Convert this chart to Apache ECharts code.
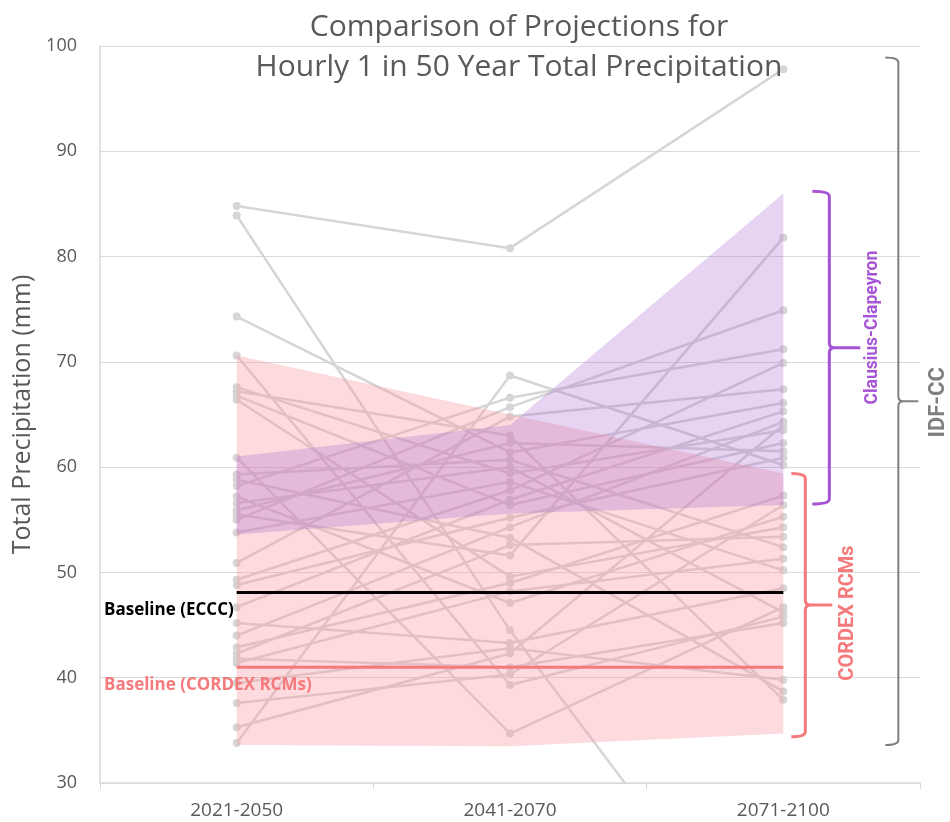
<!DOCTYPE html>
<html>
<head>
<meta charset="utf-8">
<script src="https://cdn.jsdelivr.net/npm/echarts@6/dist/echarts.min.js"></script>
<style>
  html, body { margin: 0; padding: 0; background: #fff; }
  #chart { width: 950px; height: 822px; }
</style>
</head>
<body>
<div id="chart"></div>
<script>
// Projection periods on the x axis
const periods = ['2021-2050', '2041-2070', '2071-2100'];

// Hourly 1-in-50-year total precipitation (mm), one entry per model run
const early = [84.8, 83.9, 74.3, 70.6, 67.6, 67.2, 66.8, 66.4, 60.9, 59.3, 58.8, 58.2, 57.2, 56.6, 55.9, 55.5,
               55.0, 53.8, 50.9, 49.3, 48.8, 46.7, 45.2, 44.0, 42.9, 42.3, 41.8, 41.4, 39.5, 37.6, 35.3, 33.8];
const middle = [80.8, 44.5, 61.4, 39.3, 59.4, 63.0, 56.4, 49.6, 34.7, 60.7, 53.3, 66.6, 47.1, 60.0, 62.3, 51.6,
                65.7, 58.6, 64.8, 57.8, 55.2, 56.9, 43.3, 54.3, 49.0, 52.6, 41.0, 48.2, 42.8, 40.3, 42.3, 68.7];
const late = [97.8, 10.0, 66.1, 45.8, 63.5, 37.9, 62.3, 54.3, 46.7, 52.4, 38.7, 71.2, 55.3, 46.2, 61.5, 81.8,
              74.9, 50.2, 67.4, 69.9, 60.9, 65.3, 48.5, 64.3, 57.3, 53.4, 45.2, 51.3, 39.8, 56.4, 64.0, 60.2];

// Envelope of the CORDEX RCM projections
const cordexUpper = [70.6, 65.0, 59.4];
const cordexLower = [33.6, 33.5, 34.7];

// Envelope of the Clausius-Clapeyron scaling
const ccUpper = [61.0, 64.0, 86.0];
const ccLower = [53.6, 55.6, 56.4];

// Baselines
const baselineEccc = 48.1;
const baselineCordex = 41.0;

// Ranges spanned by the bracket annotations [top, bottom]
const ccRange = [86.2, 56.5];
const cordexRange = [59.4, 34.4];
const idfRange = [98.9, 33.6];

// Y axis settings
const yMin = 30, yMax = 100, yStep = 10;

const FONT = '"Open Sans", "Liberation Sans", sans-serif';
const LABEL_FONT = 'Roboto, "Open Sans", sans-serif';
const TEXT = '#595959';
const GRID = '#d9d9d9';
const PINK = '#f47a7c';
const PURPLE = '#a653d6';

const chart = echarts.init(document.getElementById('chart'), null, { renderer: 'canvas' });

// One grey line per model run
const runSeries = early.map((v, i) => ({
  type: 'line',
  data: [v, middle[i], late[i]],
  symbol: 'circle',
  symbolSize: 8,
  silent: true,
  z: 1,
  lineStyle: { color: '#d6d6d6', width: 2.5 },
  itemStyle: { color: '#d6d6d6' },
  animation: false
}));

// Filled envelope between two arrays of values
function bandSeries(upper, lower, fill, z) {
  return {
    type: 'custom',
    data: [[0, upper[0]]],
    silent: true,
    z: z,
    animation: false,
    renderItem: function (params, api) {
      const pts = [];
      for (let i = 0; i < upper.length; i++) pts.push(api.coord([i, upper[i]]));
      for (let i = lower.length - 1; i >= 0; i--) pts.push(api.coord([i, lower[i]]));
      return { type: 'polygon', shape: { points: pts }, style: { fill: fill } };
    }
  };
}

// Horizontal baseline spanning all periods, with a caption under the plot's left edge
function baselineSeries(value, color, caption) {
  return [{
    type: 'line',
    data: periods.map(() => value),
    symbol: 'none',
    silent: true,
    z: 4,
    lineStyle: { color: color, width: 3 },
    animation: false
  }, {
    type: 'custom',
    data: [[0, value]],
    silent: true,
    z: 5,
    animation: false,
    renderItem: function (params, api) {
      const p = api.coord([0, value]);
      const left = params.coordSys.x;
      return {
        type: 'text',
        x: left + 4,
        y: p[1] + 9,
        style: {
          text: caption, fill: color, align: 'left', verticalAlign: 'top',
          font: 'bold 17px ' + FONT
        }
      };
    }
  }];
}

// Curly bracket to the right of the last period, spanning a value range
function bracketSeries(range, color, width, dx, hook, tip, labelDx, labelDy, caption, fontSize) {
  return {
    type: 'custom',
    data: [[2, range[0]]],
    silent: true,
    clip: false,
    z: 6,
    animation: false,
    renderItem: function (params, api) {
      const top = api.coord([2, range[0]]);
      const bot = api.coord([2, range[1]]);
      const x = top[0] + dx;
      const y0 = top[1], y1 = bot[1], ym = (y0 + y1) / 2;
      const r = 5;
      const d = [
        'M', x - hook, y0,
        'Q', x, y0, x, y0 + r,
        'L', x, ym - r,
        'Q', x, ym, x + r, ym,
        'L', x + tip, ym,
        'M', x + r, ym,
        'Q', x, ym, x, ym + r,
        'L', x, y1 - r,
        'Q', x, y1, x - hook, y1
      ].join(' ');
      return {
        type: 'group',
        children: [{
          type: 'path',
          shape: { pathData: d },
          style: { stroke: color, lineWidth: width, fill: null }
        }, {
          type: 'text',
          x: x + labelDx,
          y: ym + labelDy,
          rotation: Math.PI / 2,
          style: {
            text: caption, fill: color, align: 'center', verticalAlign: 'middle',
            font: 'bold ' + fontSize + 'px ' + LABEL_FONT
          }
        }]
      };
    }
  };
}

const option = {
  animation: false,
  backgroundColor: '#ffffff',
  title: {
    text: 'Comparison of Projections for\nHourly 1 in 50 Year Total Precipitation',
    left: 514,
    top: 2,
    textAlign: 'center',
    textStyle: { color: TEXT, fontFamily: FONT, fontWeight: 'normal', fontSize: 30, lineHeight: 40 }
  },
  grid: { left: 100, right: 30, top: 46, bottom: 39 },
  xAxis: {
    type: 'category',
    data: periods,
    boundaryGap: true,
    axisLine: { lineStyle: { color: GRID, width: 1.5 } },
    axisTick: { show: true, length: 6, lineStyle: { color: GRID } },
    axisLabel: { color: TEXT, fontFamily: FONT, fontSize: 19, margin: 18 }
  },
  yAxis: {
    type: 'value',
    min: yMin,
    max: yMax,
    interval: yStep,
    name: 'Total Precipitation (mm)',
    nameLocation: 'middle',
    nameGap: 64,
    nameTextStyle: { color: TEXT, fontFamily: FONT, fontSize: 25 },
    axisLine: { show: true, lineStyle: { color: GRID, width: 1.5 } },
    axisTick: { show: false },
    splitLine: { lineStyle: { color: GRID, width: 1 } },
    axisLabel: { color: TEXT, fontFamily: FONT, fontSize: 18, margin: 23 }
  },
  series: [
    ...runSeries,
    bandSeries(cordexUpper, cordexLower, 'rgba(248,150,160,0.35)', 2),
    bandSeries(ccUpper, ccLower, 'rgba(170,100,210,0.28)', 3),
    ...baselineSeries(baselineEccc, '#000000', 'Baseline (ECCC)'),
    ...baselineSeries(baselineCordex, PINK, 'Baseline (CORDEX RCMs)'),
    bracketSeries(cordexRange, PINK, 3, 22, 14, 27, 43, 8, 'CORDEX RCMs', 20),
    bracketSeries(ccRange, PURPLE, 3, 46, 17, 31, 43, -20, 'Clausius-Clapeyron', 17.5),
    bracketSeries(idfRange, '#7f7f7f', 2, 115, 13, 20, 40, 1, 'IDF-CC', 22)
  ]
};

chart.setOption(option);
</script>
</body>
</html>
